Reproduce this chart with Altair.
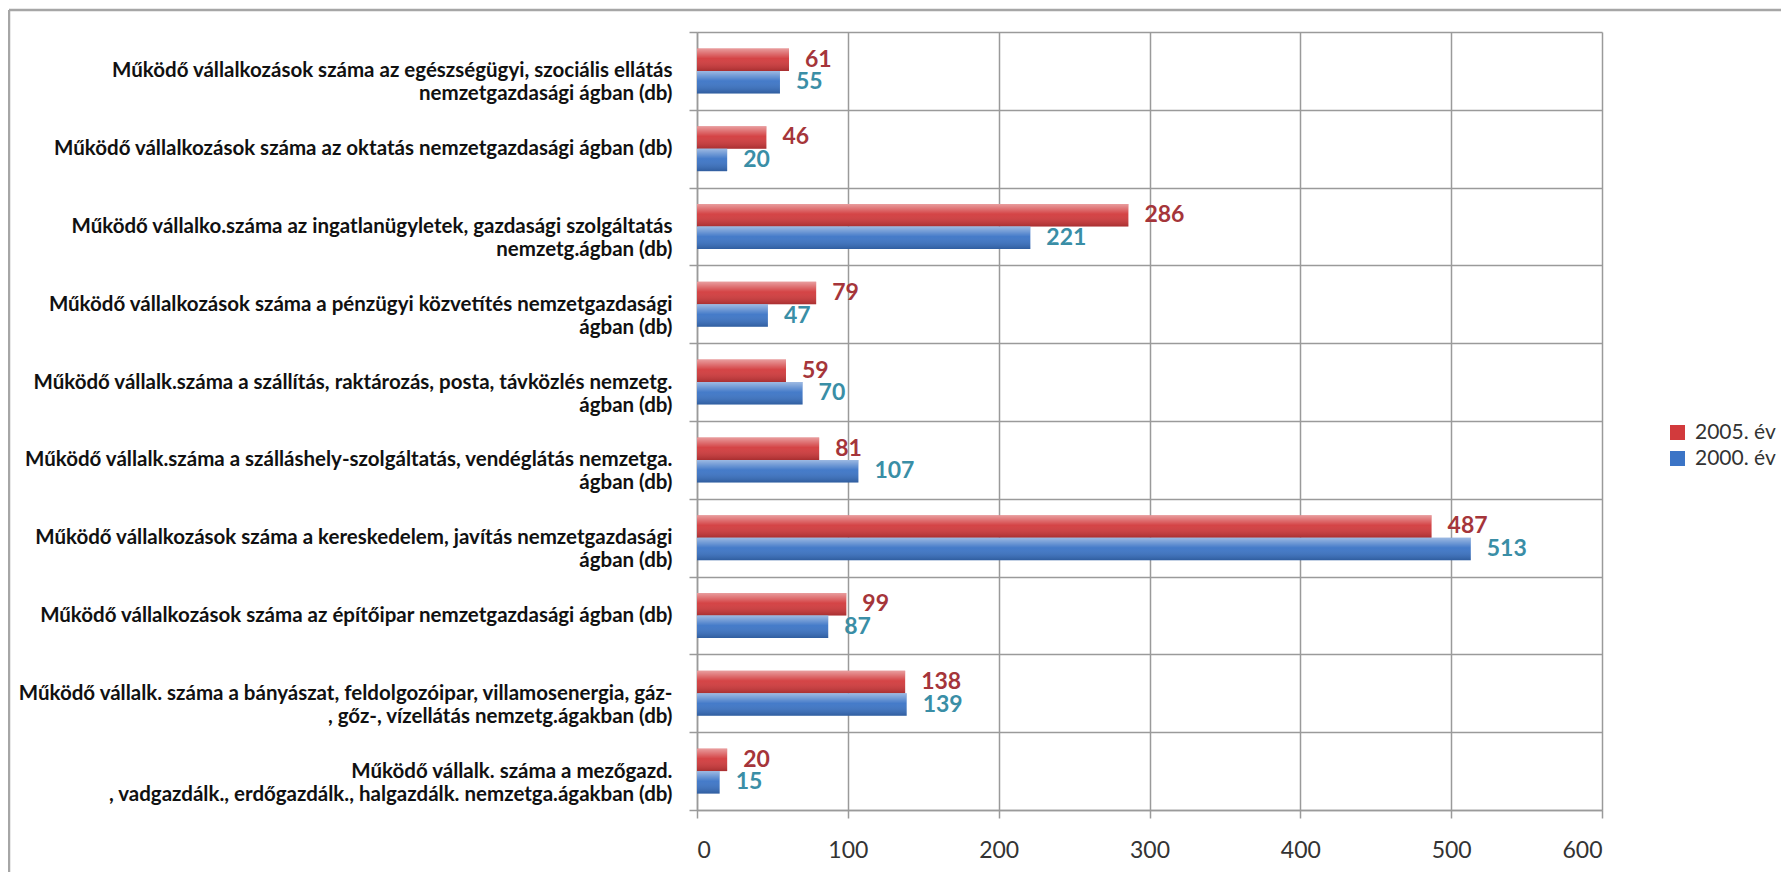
import altair as alt
import pandas as pd

# ---- data (top to bottom as in the reference) ----
label_lines = [
    ["Működő vállalkozások száma az egészségügyi, szociális ellátás", "nemzetgazdasági ágban (db)"],
    ["Működő vállalkozások száma az oktatás nemzetgazdasági ágban (db)"],
    ["Működő vállalko.száma az ingatlanügyletek, gazdasági szolgáltatás", "nemzetg.ágban (db)"],
    ["Működő vállalkozások száma a pénzügyi közvetítés nemzetgazdasági", "ágban (db)"],
    ["Működő vállalk.száma a szállítás, raktározás, posta, távközlés nemzetg.", "ágban (db)"],
    ["Működő vállalk.száma a szálláshely-szolgáltatás, vendéglátás nemzetga.", "ágban (db)"],
    ["Működő vállalkozások száma a kereskedelem, javítás nemzetgazdasági", "ágban (db)"],
    ["Működő vállalkozások száma az építőipar nemzetgazdasági ágban (db)"],
    ["Működő vállalk. száma a bányászat, feldolgozóipar, villamosenergia, gáz-", ", gőz-, vízellátás nemzetg.ágakban (db)"],
    ["Működő vállalk. száma a mezőgazd.", ", vadgazdálk., erdőgazdálk., halgazdálk. nemzetga.ágakban (db)"],
]
categories = ["|".join(l) for l in label_lines]
series = ["2005. év", "2000. év"]
values_2005 = [61, 46, 286, 79, 59, 81, 487, 99, 138, 20]
values_2000 = [55, 20, 221, 47, 70, 107, 513, 87, 139, 15]
x_ticks = [0, 100, 200, 300, 400, 500, 600]

rows = []
for c, a, b in zip(categories, values_2005, values_2000):
    rows.append({"cat": c, "series": series[0], "value": a})
    rows.append({"cat": c, "series": series[1], "value": b})
df = pd.DataFrame(rows)

RED = "#d23a3c"
BLUE = "#3b74c6"
RED_TXT = "#a5353a"
BLUE_TXT = "#3a8ea6"
GRID = "#9a9a9a"
FONT = "Lato"

y_enc = alt.Y(
    "cat:N",
    sort=categories,
    scale=alt.Scale(paddingInner=0, paddingOuter=0),
    axis=alt.Axis(
        title=None,
        labelExpr="split(datum.label, '|')",
        labelFont=FONT,
        labelFontSize=20.5,
        labelFontWeight="bold",
        labelColor="#111111",
        labelAlign="right",
        labelBaseline="middle",
        labelLineHeight=23,
        labelLimit=800,
        labelPadding=17,
        tickBand="extent",
        tickSize=8,
        tickColor=GRID,
        tickWidth=1.5,
        grid=True,
        gridColor=GRID,
        gridWidth=1.5,
        domainColor=GRID,
        domainWidth=1.5,
    ),
)
yoff_enc = alt.YOffset(
    "series:N", sort=series, scale=alt.Scale(paddingInner=0, paddingOuter=0.73)
)
x_enc = alt.X(
    "value:Q",
    scale=alt.Scale(domain=[0, 600], nice=False),
    axis=alt.Axis(
        title=None,
        values=x_ticks,
        labelFont=FONT,
        labelFontSize=23,
        labelColor="#333333",
        labelPadding=21,
        tickSize=8,
        tickColor=GRID,
        tickWidth=1.5,
        grid=True,
        gridColor=GRID,
        gridWidth=1.5,
        domainColor=GRID,
        domainWidth=1.5,
    ),
)

base = alt.Chart(df).encode(y=y_enc, yOffset=yoff_enc)

bars = base.mark_bar().encode(
    x=x_enc,
    color=alt.Color(
        "series:N",
        sort=series,
        scale=alt.Scale(domain=series, range=[RED, BLUE]),
        legend=alt.Legend(
            title=None,
            orient="none",
            legendX=970,
            legendY=390,
            symbolType="square",
            symbolSize=225,
            symbolStrokeWidth=0,
            labelFont=FONT,
            labelFontSize=21,
            labelColor="#333333",
            rowPadding=4,
            labelOffset=7,
        ),
    ),
)

shine = base.mark_bar(
    fill=alt.Gradient(
        gradient="linear",
        stops=[
            alt.GradientStop(color="rgba(255,255,255,0.5)", offset=0),
            alt.GradientStop(color="rgba(255,255,255,0.05)", offset=0.45),
            alt.GradientStop(color="rgba(0,0,0,0.2)", offset=1),
        ],
        x1=0, x2=0, y1=0, y2=1,
    )
).encode(x=x_enc)

labels = base.mark_text(
    align="left", baseline="middle", dx=16, font=FONT, fontSize=23, fontWeight="bold"
).encode(
    x=x_enc,
    text=alt.Text("value:Q"),
    color=alt.condition(
        alt.datum.series == series[0], alt.value(RED_TXT), alt.value(BLUE_TXT)
    ),
)

frame_df = pd.DataFrame({"k": [0]})
frame_left = alt.Chart(frame_df).mark_rule(color="#a6a6a6", strokeWidth=2.5, clip=False).encode(
    x=alt.value(-688), y=alt.value(-22), y2=alt.value(840)
)
frame_top = alt.Chart(frame_df).mark_rule(color="#a6a6a6", strokeWidth=2.5, clip=False).encode(
    x=alt.value(-688), x2=alt.value(1090), y=alt.value(-22)
)

chart = (
    alt.layer(bars, shine, labels, frame_left, frame_top)
    .properties(
        width=905,
        height=778,
        padding={"left": 689, "top": 24, "right": 179, "bottom": 62},
        autosize=alt.AutoSizeParams(type="none"),
        background="white",
    )
    .configure_view(stroke=None)
)

chart.save("out.html", embed_options={"renderer": "svg", "actions": False})
